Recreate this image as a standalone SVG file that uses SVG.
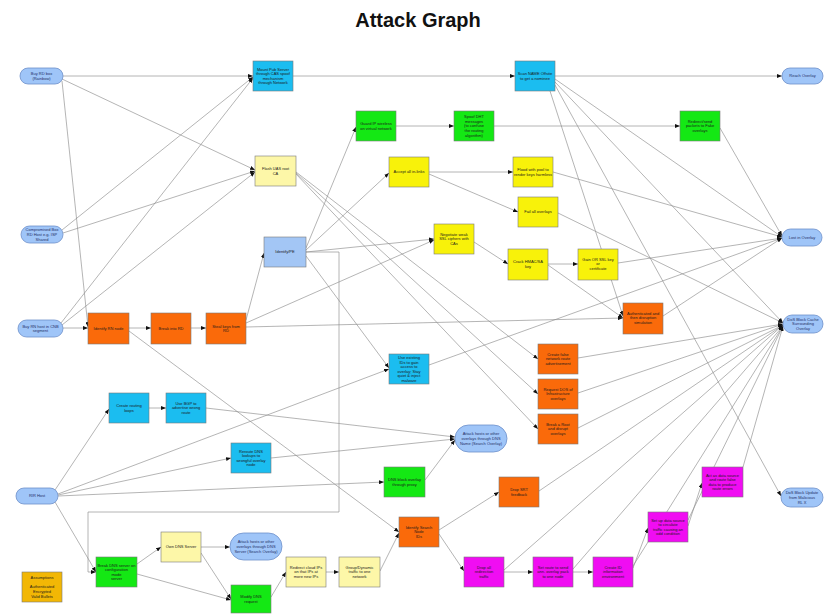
<svg xmlns="http://www.w3.org/2000/svg" width="829" height="615" viewBox="0 0 829 615">
<style>
  .bg{fill:#ffffff}
  .title{font-family:"Liberation Sans",Arial,sans-serif;font-weight:bold;font-size:20px;fill:#111}
  .n rect{stroke:#7a7a7a;stroke-width:0.6}
  .n text{font-family:"Liberation Sans",Arial,sans-serif;font-size:4px;fill:#1a1a1a;text-anchor:middle}
  .ell rect{fill:#9fc5f8;stroke:#6d8fc9;stroke-width:0.8}
  .ell text{fill:#1f2f66}
  .cy rect{fill:#1bbdf0}
  .or rect{fill:#fa6a0a}
  .gr rect{fill:#14e814}
  .ye rect{fill:#f8f20a}
  .ly rect{fill:#fdf7a8}
  .lb rect{fill:#a3c6f5}
  .mg rect{fill:#f00df2}
  .lg rect{fill:#f2b705}
  #edges path{fill:none;stroke:#8c8c8c;stroke-width:0.65;marker-end:url(#ah)}
</style>
<defs>
  <marker id="ah" markerUnits="userSpaceOnUse" markerWidth="5" markerHeight="4" refX="5" refY="2" orient="auto">
    <path d="M0,0 L5,2 L0,4 z" fill="#111"/>
  </marker>
</defs>
<rect class="bg" x="0" y="0" width="829" height="615"/>
<text class="title" x="418" y="27" text-anchor="middle">Attack Graph</text>

<g id="edges">
  <path d="M63,76 L253,76"/>
  <path d="M62,79 L255,170"/>
  <path d="M62,81 L88,327"/>
  <path d="M62,230 L253,77"/>
  <path d="M63,233 L255,171"/>
  <path d="M61,323 L253,78"/>
  <path d="M62,325 L255,172"/>
  <path d="M63,328 L88,328"/>
  <path d="M129,328 L151,328"/>
  <path d="M191,328 L206,328"/>
  <path d="M129,331 L399,532"/>
  <path d="M246,320 L264,253"/>
  <path d="M246,327 L623,318"/>
  <path d="M246,323 L434,240"/>
  <path d="M306,248 L356,127"/>
  <path d="M306,250 L389,173"/>
  <path d="M306,252 L434,239"/>
  <path d="M306,256 L389,368"/>
  <path d="M306,252 L339,252 L339,512 L88,512 L88,572 L96,572"/>
  <path d="M293,76 L515,76"/>
  <path d="M555,76 L782,76"/>
  <path d="M555,79 L782,237"/>
  <path d="M555,82 L783,323"/>
  <path d="M555,85 L781,496"/>
  <path d="M550,91 L623,316"/>
  <path d="M396,126 L454,126"/>
  <path d="M494,126 L680,126"/>
  <path d="M720,128 L782,236"/>
  <path d="M429,172 L513,172"/>
  <path d="M429,174 L518,212"/>
  <path d="M553,172 L782,237"/>
  <path d="M558,213 L783,323"/>
  <path d="M474,242 L508,264"/>
  <path d="M548,264 L578,264"/>
  <path d="M548,265 L623,318"/>
  <path d="M618,263 L782,238"/>
  <path d="M663,316 L782,238"/>
  <path d="M429,365 L782,238"/>
  <path d="M296,172 L538,359"/>
  <path d="M296,173 L538,394"/>
  <path d="M296,174 L538,429"/>
  <path d="M578,358 L783,324"/>
  <path d="M578,393 L783,324"/>
  <path d="M578,428 L783,325"/>
  <path d="M55,490 L109,409"/>
  <path d="M58,494 L389,369"/>
  <path d="M58,495 L231,458"/>
  <path d="M58,496 L384,482"/>
  <path d="M55,502 L96,572"/>
  <path d="M149,408 L166,408"/>
  <path d="M206,408 L455,437"/>
  <path d="M271,458 L455,439"/>
  <path d="M425,480 L455,440"/>
  <path d="M380,571 L399,533"/>
  <path d="M439,530 L499,492"/>
  <path d="M439,534 L464,571"/>
  <path d="M539,491 L783,325"/>
  <path d="M504,572 L533,572"/>
  <path d="M573,572 L593,572"/>
  <path d="M504,570 L783,325"/>
  <path d="M573,569 L783,326"/>
  <path d="M633,566 L783,326"/>
  <path d="M633,568 L648,528"/>
  <path d="M688,526 L702,483"/>
  <path d="M688,520 L783,326"/>
  <path d="M743,467 L783,326"/>
  <path d="M137,564 L161,547"/>
  <path d="M137,574 L231,600"/>
  <path d="M201,547 L230,547"/>
  <path d="M201,553 L231,599"/>
  <path d="M271,597 L286,572"/>
  <path d="M326,572 L339,572"/>
</g>

<!-- start and goal states -->
<g id="buy-rd-box" class="n ell"><rect x="20" y="68" width="43" height="16" rx="8"/><text><tspan x="41.5" y="75.1">Buy RD box</tspan><tspan x="41.5" y="79.7">(Rainbow)</tspan></text></g>
<g id="compromised-box" class="n ell"><rect x="21" y="226" width="42" height="17" rx="8.5"/><text><tspan x="42" y="231.3">Compromised Box</tspan><tspan x="42" y="235.9">RD Host e.g. ISP</tspan><tspan x="42" y="240.5">Shared</tspan></text></g>
<g id="buy-rn-host" class="n ell"><rect x="18" y="320" width="45" height="17" rx="8.5"/><text><tspan x="40.5" y="327.6">Buy RN host in CNB</tspan><tspan x="40.5" y="332.2">segment</tspan></text></g>
<g id="rir-host" class="n ell"><rect x="16" y="488" width="42" height="16" rx="8"/><text><tspan x="37" y="497.4">RIR Host</tspan></text></g>
<g id="reach-overlay" class="n ell"><rect x="782" y="68" width="41" height="16" rx="8"/><text><tspan x="802.5" y="77.4">Reach Overlay</tspan></text></g>
<g id="lost-overlay" class="n ell"><rect x="782" y="229" width="40" height="17" rx="8.5"/><text><tspan x="802" y="238.9">Lost in Overlay</tspan></text></g>
<g id="dos-cache" class="n ell"><rect x="783" y="315" width="40" height="18" rx="9"/><text><tspan x="803" y="320.8">DoS Block Cache</tspan><tspan x="803" y="325.4">Surrounding</tspan><tspan x="803" y="330">Overlay</tspan></text></g>
<g id="dos-update" class="n ell"><rect x="781" y="488" width="42" height="19" rx="9.5"/><text><tspan x="802" y="494.3">DoS Block Update</tspan><tspan x="802" y="498.9">from Malicious</tspan><tspan x="802" y="503.5">RL X</tspan></text></g>
<g id="attack-search" class="n ell"><rect x="455" y="425" width="52" height="27" rx="13.5"/><text><tspan x="481" y="435.3">Attack hosts or other</tspan><tspan x="481" y="439.9">overlays through DNS</tspan><tspan x="481" y="444.5">Name (Search Overlay)</tspan></text></g>
<g id="attack-dns" class="n ell"><rect x="230" y="533" width="52" height="27" rx="13.5"/><text><tspan x="256" y="543.3">Attack hosts or other</tspan><tspan x="256" y="547.9">overlays through DNS</tspan><tspan x="256" y="552.5">Server (Search Overlay)</tspan></text></g>

<!-- attack steps -->
<g id="mount-pub" class="n cy"><rect x="253" y="61" width="40" height="30"/><text><tspan x="273" y="70.5">Mount Pub Server</tspan><tspan x="273" y="75.1">through CAS spoof</tspan><tspan x="273" y="79.7">mechanism</tspan><tspan x="273" y="84.3">through Network</tspan></text></g>
<g id="flash-uas" class="n ly"><rect x="255" y="156" width="41" height="30"/><text><tspan x="275.5" y="170.1">Flash UAS root</tspan><tspan x="275.5" y="174.7">CA</tspan></text></g>
<g id="scan-name" class="n cy"><rect x="515" y="61" width="40" height="30"/><text><tspan x="535" y="75.1">Scan NAME Offsite</tspan><tspan x="535" y="79.7">to get a nominee</tspan></text></g>
<g id="guard-ip" class="n gr"><rect x="356" y="111" width="40" height="30"/><text><tspan x="376" y="125.1">Guard IP wireless</tspan><tspan x="376" y="129.7">on virtual network</tspan></text></g>
<g id="spoof-dht" class="n gr"><rect x="454" y="111" width="40" height="30"/><text><tspan x="474" y="118.2">Spoof DHT</tspan><tspan x="474" y="122.8">messages</tspan><tspan x="474" y="127.4">(to confuse</tspan><tspan x="474" y="132">the routing</tspan><tspan x="474" y="136.6">algorithm)</tspan></text></g>
<g id="redirect-fake" class="n gr"><rect x="680" y="111" width="40" height="30"/><text><tspan x="700" y="122.8">Redirect/send</tspan><tspan x="700" y="127.4">packets to Fake</tspan><tspan x="700" y="132">overlays</tspan></text></g>
<g id="accept-links" class="n ye"><rect x="389" y="157" width="40" height="30"/><text><tspan x="409" y="173.4">Accept all in-links</tspan></text></g>
<g id="flood-pool" class="n ye"><rect x="513" y="157" width="40" height="30"/><text><tspan x="533" y="171.1">Flood with pool to</tspan><tspan x="533" y="175.7">render keys harmless</tspan></text></g>
<g id="fail-overlays" class="n ye"><rect x="518" y="197" width="40" height="30"/><text><tspan x="538" y="213.4">Fail all overlays</tspan></text></g>
<g id="weak-ssl" class="n ye"><rect x="434" y="224" width="40" height="30"/><text><tspan x="454" y="235.8">Negotiate weak</tspan><tspan x="454" y="240.4">SSL ciphers with</tspan><tspan x="454" y="245">CAs</tspan></text></g>
<g id="crack-hmac" class="n ye"><rect x="508" y="249" width="40" height="31"/><text><tspan x="528" y="263.1">Crack HMAC/SA</tspan><tspan x="528" y="267.7">key</tspan></text></g>
<g id="gain-ssl" class="n ye"><rect x="578" y="249" width="40" height="31"/><text><tspan x="598" y="260.8">Gain OR SSL key</tspan><tspan x="598" y="265.4">or</tspan><tspan x="598" y="270">certificate</tspan></text></g>
<g id="identify-pe" class="n lb"><rect x="264" y="237" width="42" height="30"/><text><tspan x="285" y="253.4">Identify/PE</tspan></text></g>
<g id="identify-rn" class="n or"><rect x="88" y="313" width="41" height="31"/><text><tspan x="108.5" y="329.9">Identify RN node</tspan></text></g>
<g id="break-rd" class="n or"><rect x="151" y="313" width="40" height="31"/><text><tspan x="171" y="329.9">Break into RD</tspan></text></g>
<g id="steal-keys" class="n or"><rect x="206" y="313" width="40" height="31"/><text><tspan x="226" y="327.6">Steal keys from</tspan><tspan x="226" y="332.2">RD</tspan></text></g>
<g id="authenticated" class="n or"><rect x="623" y="303" width="40" height="31"/><text><tspan x="643" y="314.8">Authenticated and</tspan><tspan x="643" y="319.4">then disruption</tspan><tspan x="643" y="324">simulation</tspan></text></g>
<g id="existing-ids" class="n cy"><rect x="389" y="354" width="40" height="30"/><text><tspan x="409" y="358.9">Use existing</tspan><tspan x="409" y="363.5">IDs to gain</tspan><tspan x="409" y="368.1">access to</tspan><tspan x="409" y="372.7">overlay; Stay</tspan><tspan x="409" y="377.3">quiet &amp; inject</tspan><tspan x="409" y="381.9">malware</tspan></text></g>
<g id="false-route" class="n or"><rect x="538" y="344" width="40" height="30"/><text><tspan x="558" y="355.8">Create false</tspan><tspan x="558" y="360.4">network route</tspan><tspan x="558" y="365">advertisement</tspan></text></g>
<g id="request-dos" class="n or"><rect x="538" y="379" width="40" height="30"/><text><tspan x="558" y="390.8">Request DOS of</tspan><tspan x="558" y="395.4">Infrastructure</tspan><tspan x="558" y="400">overlays</tspan></text></g>
<g id="break-root" class="n or"><rect x="538" y="414" width="40" height="30"/><text><tspan x="558" y="425.8">Break a Root</tspan><tspan x="558" y="430.4">and disrupt</tspan><tspan x="558" y="435">overlays</tspan></text></g>
<g id="routing-loops" class="n cy"><rect x="109" y="393" width="40" height="30"/><text><tspan x="129" y="407.1">Create routing</tspan><tspan x="129" y="411.7">loops</tspan></text></g>
<g id="use-bgp" class="n cy"><rect x="166" y="393" width="40" height="30"/><text><tspan x="186" y="404.8">Use BGP to</tspan><tspan x="186" y="409.4">advertise wrong</tspan><tspan x="186" y="414">route</tspan></text></g>
<g id="reroute-dns" class="n cy"><rect x="231" y="443" width="40" height="30"/><text><tspan x="251" y="452.5">Reroute DNS</tspan><tspan x="251" y="457.1">lookups to</tspan><tspan x="251" y="461.7">wrongful overlay</tspan><tspan x="251" y="466.3">node</tspan></text></g>
<g id="dns-block" class="n gr"><rect x="384" y="467" width="41" height="30"/><text><tspan x="404.5" y="481.1">DNS block overlay</tspan><tspan x="404.5" y="485.7">through proxy</tspan></text></g>
<g id="identify-search" class="n or"><rect x="399" y="517" width="40" height="30"/><text><tspan x="419" y="528.8">Identify Search</tspan><tspan x="419" y="533.4">Node</tspan><tspan x="419" y="538">IDs</tspan></text></g>
<g id="drop-srt" class="n or"><rect x="499" y="477" width="40" height="30"/><text><tspan x="519" y="491.1">Drop SRT</tspan><tspan x="519" y="495.7">feedback</tspan></text></g>
<g id="drop-traffic" class="n mg"><rect x="464" y="557" width="40" height="30"/><text><tspan x="484" y="568.8">Drop all</tspan><tspan x="484" y="573.4">redirection</tspan><tspan x="484" y="578">traffic</tspan></text></g>
<g id="set-route" class="n mg"><rect x="533" y="557" width="40" height="30"/><text><tspan x="553" y="568.8">Set route to send</tspan><tspan x="553" y="573.4">ann. overlay pack</tspan><tspan x="553" y="578">to one node</tspan></text></g>
<g id="create-id" class="n mg"><rect x="593" y="557" width="40" height="30"/><text><tspan x="613" y="568.8">Create ID</tspan><tspan x="613" y="573.4">information</tspan><tspan x="613" y="578">environment</tspan></text></g>
<g id="data-source" class="n mg"><rect x="648" y="512" width="40" height="30"/><text><tspan x="668" y="521.5">Set up data source</tspan><tspan x="668" y="526.1">to circulate</tspan><tspan x="668" y="530.7">traffic causing an</tspan><tspan x="668" y="535.3">odd condition</tspan></text></g>
<g id="false-data" class="n mg"><rect x="702" y="467" width="41" height="30"/><text><tspan x="722.5" y="476.5">Act as data source</tspan><tspan x="722.5" y="481.1">and route false</tspan><tspan x="722.5" y="485.7">data to produce</tspan><tspan x="722.5" y="490.3">route errors</tspan></text></g>
<g id="break-dns" class="n gr"><rect x="96" y="557" width="41" height="30"/><text><tspan x="116.5" y="566.5">Break DNS server on</tspan><tspan x="116.5" y="571.1">configuration</tspan><tspan x="116.5" y="575.7">mode</tspan><tspan x="116.5" y="580.3">server</tspan></text></g>
<g id="own-dns" class="n ly"><rect x="161" y="532" width="40" height="30"/><text><tspan x="181" y="548.4">Own DNS Server</tspan></text></g>
<g id="modify-dns" class="n gr"><rect x="231" y="585" width="40" height="28"/><text><tspan x="251" y="598.1">Modify DNS</tspan><tspan x="251" y="602.7">request</tspan></text></g>
<g id="redirect-ips" class="n ly"><rect x="286" y="557" width="40" height="30"/><text><tspan x="306" y="568.8">Redirect cloud IPs</tspan><tspan x="306" y="573.4">on that IPs at</tspan><tspan x="306" y="578">more new IPs</tspan></text></g>
<g id="group-traffic" class="n ly"><rect x="339" y="557" width="41" height="30"/><text><tspan x="359.5" y="568.8">Group/Dynamic</tspan><tspan x="359.5" y="573.4">traffic to one</tspan><tspan x="359.5" y="578">network</tspan></text></g>

<!-- legend -->
<g id="legend" class="n lg"><rect x="22" y="572" width="40" height="30"/><text><tspan x="42" y="579.2">Assumptions</tspan><tspan x="42" y="588.4">Authenticated</tspan><tspan x="42" y="593">Encrypted</tspan><tspan x="42" y="597.6">Valid Bullets</tspan></text></g>
</svg>
